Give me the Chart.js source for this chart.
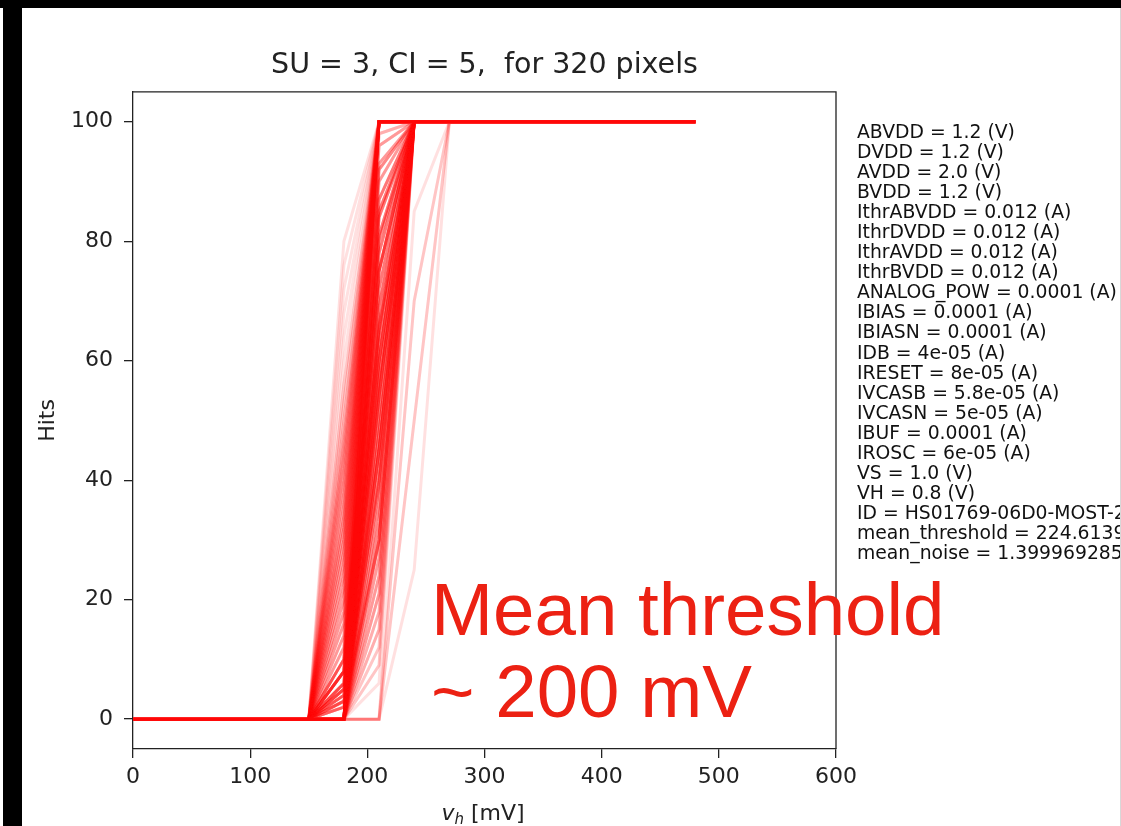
<!DOCTYPE html>
<html>
<head>
<meta charset="utf-8">
<script src="https://cdn.jsdelivr.net/npm/chart.js@4.4.1/dist/chart.umd.min.js"></script>
<style>
  html, body { margin: 0; padding: 0; background: #fff; }
  body { width: 1121px; height: 826px; position: relative; overflow: hidden; font-family: "DejaVu Sans", sans-serif; }
  #chart { position: absolute; left: 0; top: 0; }
  .bar { position: absolute; background: #000; }
  #params { position: absolute; left: 857px; top: 121.5px; width: 263px; overflow: hidden; white-space: nowrap;
            font-size: 18.8px; line-height: 20.1px; color: #111; }
  #note { position: absolute; left: 431px; top: 569px; font-family: "Liberation Sans", Arial, sans-serif;
          font-size: 74.5px; line-height: 82px; color: #ec2113; white-space: nowrap; }
  #xlabel { position: absolute; left: 383px; top: 800px; width: 200px; text-align: center;
            font-size: 22px; line-height: 26px; color: #222; white-space: nowrap; }
  #xlabel sub { font-size: 15px; vertical-align: -4px; line-height: 0; }
</style>
</head>
<body>
<canvas id="chart" width="1121" height="826"></canvas>

<div class="bar" style="left:0;top:0;width:1121px;height:8px"></div>
<div class="bar" style="left:3px;top:0;width:19px;height:826px"></div>
<div style="position:absolute;left:1120px;top:8px;width:1px;height:818px;background:#d8d8d8"></div>

<div id="params">
ABVDD = 1.2 (V)<br>
DVDD = 1.2 (V)<br>
AVDD = 2.0 (V)<br>
BVDD = 1.2 (V)<br>
IthrABVDD = 0.012 (A)<br>
IthrDVDD = 0.012 (A)<br>
IthrAVDD = 0.012 (A)<br>
IthrBVDD = 0.012 (A)<br>
ANALOG_POW = 0.0001 (A)<br>
IBIAS = 0.0001 (A)<br>
IBIASN = 0.0001 (A)<br>
IDB = 4e-05 (A)<br>
IRESET = 8e-05 (A)<br>
IVCASB = 5.8e-05 (A)<br>
IVCASN = 5e-05 (A)<br>
IBUF = 0.0001 (A)<br>
IROSC = 6e-05 (A)<br>
VS = 1.0 (V)<br>
VH = 0.8 (V)<br>
ID = HS01769-06D0-MOST-2<br>
mean_threshold = 224.6139<br>
mean_noise = 1.399969285
</div>

<div id="xlabel"><i>v</i><sub><i>h</i></sub> [mV]</div>

<div id="note">Mean threshold<br>~ 200 mV</div>

<script>
// scan points (mV) and axis ticks
const vh = [0, 30, 60, 90, 120, 150, 180, 210, 240, 270, 300, 330, 360, 390, 420, 450, 480]
const xTicks = [0, 100, 200, 300, 400, 500, 600]
const yTicks = [0, 20, 40, 60, 80, 100]

// S-curves: hits are 0 below 150 mV and 100 above 270 mV
const lowPlateau = 0
const highPlateau = 100
const risingVh = [150, 180, 210, 240, 270]

// one column per rising point, one entry per curve shape
// shapes 0-32: start at 150, full at 210
// shapes 33-64: start at 180, full at 240
// shapes 65-68: start at 210, full at 270
// shapes 69-78: start at 150, full at 240
const hits150 = [
  0,0,0,0,0,0,0,0,0,0,0,0,0,0,0,0,0,0,0,0,0,0,0,0,0,0,0,0,0,0,0,0,0,
  0,0,0,0,0,0,0,0,0,0,0,0,0,0,0,0,0,0,0,0,0,0,0,0,0,0,0,0,0,0,0,0,
  0,0,0,0,
  0,0,0,0,0,0,0,0,0,0]
const hits180 = [
  2,4,6,8,10,12,14,16,18,20,22,24,26,28,30,32,34,36,38,40,42,44,46,48,50,53,56,60,64,68,72,76,80,
  0,0,0,0,0,0,0,0,0,0,0,0,0,0,0,0,0,0,0,0,0,0,0,0,0,0,0,0,0,0,0,0,
  0,0,0,0,
  2,3,4,5,6,8,10,3,5,8]
const hits210 = [
  100,100,100,100,100,100,100,100,100,100,100,100,100,100,100,100,100,100,100,100,100,100,100,100,100,100,100,100,100,100,100,100,100,
  6,9,12,15,18,21,24,27,30,33,36,39,42,45,48,51,54,57,60,63,66,69,72,75,78,81,84,87,90,93,96,98,
  0,0,0,0,
  30,45,55,65,75,85,92,40,60,80]
const hits240 = [
  100,100,100,100,100,100,100,100,100,100,100,100,100,100,100,100,100,100,100,100,100,100,100,100,100,100,100,100,100,100,100,100,100,
  100,100,100,100,100,100,100,100,100,100,100,100,100,100,100,100,100,100,100,100,100,100,100,100,100,100,100,100,100,100,100,100,
  25,50,70,85,
  100,100,100,100,100,100,100,100,100,100]
const hits270 = [
  100,100,100,100,100,100,100,100,100,100,100,100,100,100,100,100,100,100,100,100,100,100,100,100,100,100,100,100,100,100,100,100,100,
  100,100,100,100,100,100,100,100,100,100,100,100,100,100,100,100,100,100,100,100,100,100,100,100,100,100,100,100,100,100,100,100,
  100,100,100,100,
  100,100,100,100,100,100,100,100,100,100]
// how many of the 320 pixels follow each shape
const pixelCount = [
  3,3,4,4,4,4,4,4,4,4,4,4,4,4,4,4,4,3,3,3,3,3,3,2,2,2,2,1,1,1,1,1,1,
  1,2,2,3,3,4,4,4,5,5,5,5,5,7,7,7,7,7,7,7,7,7,6,6,6,6,6,6,4,4,4,3,
  1,2,2,1,
  5,5,6,6,6,6,5,5,5,5]

const curveColumns = [hits150, hits180, hits210, hits240, hits270]

const datasets = []
pixelCount.forEach((n, i) => {
  const points = vh.map(v => {
    const k = risingVh.indexOf(v)
    const y = k >= 0 ? curveColumns[k][i] : (v < risingVh[0] ? lowPlateau : highPlateau)
    return { x: v, y: y }
  })
  for (let p = 0; p < n; p++) datasets.push({ data: points })
})

const frame = {
  id: 'frame',
  afterDraw(chart) {
    const { ctx, chartArea } = chart
    ctx.save()
    ctx.strokeStyle = '#222'
    ctx.lineWidth = 1.3
    ctx.beginPath()
    ctx.moveTo(chartArea.left, chartArea.top)
    ctx.lineTo(chartArea.right, chartArea.top)
    ctx.lineTo(chartArea.right, chartArea.bottom)
    ctx.stroke()
    ctx.restore()
  }
}

const tickFont = { family: 'DejaVu Sans', size: 22 }

new Chart(document.getElementById('chart'), {
  type: 'line',
  data: { datasets: datasets },
  plugins: [frame],
  options: {
    responsive: false,
    animation: false,
    events: [],
    parsing: false,
    layout: { padding: { top: 8, left: 35, right: 285, bottom: 0 } },
    elements: {
      line: { borderColor: 'rgba(255,0,0,0.12)', borderWidth: 3, tension: 0, fill: false },
      point: { radius: 0 }
    },
    plugins: {
      legend: { display: false },
      tooltip: { enabled: false },
      title: {
        display: true,
        text: 'SU = 3, CI = 5,  for 320 pixels',
        fullSize: false,
        color: '#222',
        font: { family: 'DejaVu Sans', size: 28.5, weight: 'normal' },
        padding: { top: 40.9, bottom: 8.8 }
      }
    },
    scales: {
      x: {
        type: 'linear',
        min: 0,
        max: 600,
        afterBuildTicks: axis => { axis.ticks = xTicks.map(v => ({ value: v })) },
        afterFit: scale => { scale.height = 77 },
        grid: { display: true, drawOnChartArea: false, drawTicks: true, tickLength: 9, color: '#222', lineWidth: 1.3 },
        border: { color: '#222', width: 1.3 },
        ticks: { color: '#222', font: tickFont, padding: 6, maxRotation: 0 }
      },
      y: {
        type: 'linear',
        min: -5,
        max: 105,
        afterBuildTicks: axis => { axis.ticks = yTicks.map(v => ({ value: v })) },
        afterFit: scale => { scale.width = 98 },
        grid: { display: true, drawOnChartArea: false, drawTicks: true, tickLength: 9, color: '#222', lineWidth: 1.3 },
        border: { color: '#222', width: 1.3 },
        ticks: { color: '#222', font: tickFont, padding: 11 },
        title: { display: true, text: 'Hits', color: '#222', font: tickFont, padding: { top: 0, bottom: 0 } }
      }
    }
  }
})
</script>
</body>
</html>
